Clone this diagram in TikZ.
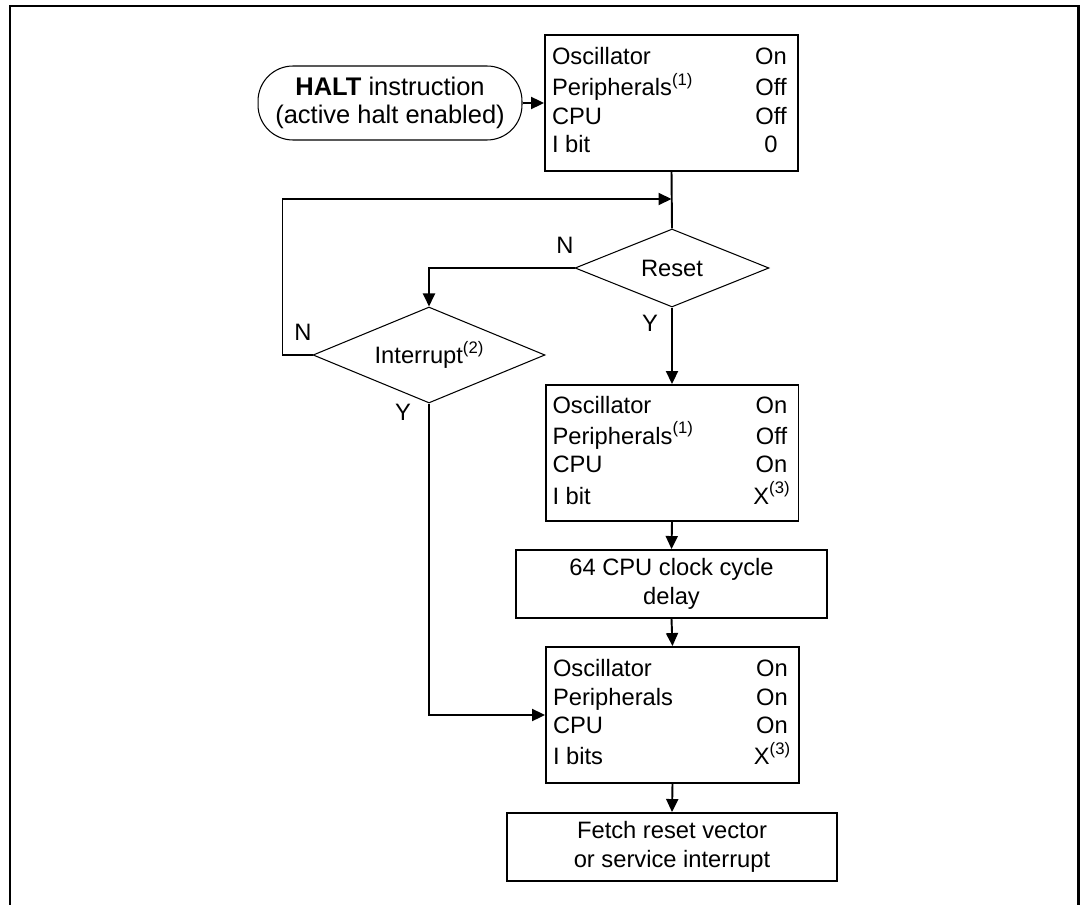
\documentclass[tikz,border=0pt]{standalone}
\usepackage{fontspec}
\setmainfont{Liberation Sans}
\usepackage{array}
\usetikzlibrary{arrows.meta,shapes.geometric}

\newcolumntype{C}{>{\centering\arraybackslash}p{0.8cm}}
\newcommand{\noteref}[1]{\raisebox{0.45em}{\fontsize{9.5}{9.5}\selectfont(#1)}}

\begin{document}
\begin{tikzpicture}[x=0.02cm, y=-0.02cm,
        font=\fontsize{13.5}{16.2}\selectfont,
        statebox/.style={draw, line width=1.1pt, rectangle, minimum width=5.06cm, minimum height=2.72cm, inner sep=0pt},
        stepbox/.style={draw, line width=1.1pt, rectangle, minimum height=1.36cm, inner sep=0pt, align=center},
        decision/.style={draw, line width=0.6pt, diamond, inner sep=0pt},
        flow/.style={line width=1.1pt, -{Triangle[length=0.26cm,width=0.24cm]}}]
        \useasboundingbox (0,0) rectangle (1084,905);

        % Frame
        \draw[line width=1.7pt] (10,905) -- (10,6) -- (1078,6) -- (1078,905);

        % Start
        \node[draw, line width=0.6pt, rounded corners=0.7cm, minimum width=5.28cm, minimum height=1.48cm, align=center, font=\fontsize{14.5}{16.4}\selectfont] (halt) at (390,103) {\textbf{HALT} instruction\\(active halt enabled)};

        % Halted state
        \node[statebox] (s1) at (671.5,103) {\begin{tabular}{@{}p{3.98cm}@{}C@{}}
            Oscillator & On\\
            Peripherals\noteref{1} & Off\\
            CPU & Off\\
            I bit & 0
        \end{tabular}};

        % Decisions
        \node[decision, shape aspect=2.5, minimum width=3.88cm, minimum height=1.56cm] (reset) at (672,268) {Reset};
        \node[decision, shape aspect=2.4, minimum width=4.64cm, minimum height=1.92cm] (intr) at (429,355) {Interrupt\noteref{2}};

        % Wake-up states
        \node[statebox] (s2) at (672,453) {\begin{tabular}{@{}p{3.98cm}@{}C@{}}
            Oscillator & On\\
            Peripherals\noteref{1} & Off\\
            CPU & On\\
            I bit & X\noteref{3}
        \end{tabular}};
        \node[stepbox, minimum width=6.22cm] (delay) at (671.5,584) {64 CPU clock cycle\\delay};
        \node[statebox] (s3) at (672.5,715) {\begin{tabular}{@{}p{3.98cm}@{}C@{}}
            Oscillator & On\\
            Peripherals & On\\
            CPU & On\\
            I bits & X\noteref{3}
        \end{tabular}};
        \node[stepbox, minimum width=6.6cm] (fetch) at (672,847) {Fetch reset vector\\or service interrupt};

        % Branch labels
        \node (resetn) at (565,245) {N};
        \node (resety) at (650,323) {Y};
        \node (intrn) at (303,332) {N};
        \node (intry) at (403,412) {Y};

        % Connections
        \coordinate (loop) at (s1.south |- 0,199);
        \draw[flow] (halt) -- (s1);
        \draw[line width=1.1pt] (s1.south) -- (reset.north);
        \draw[flow] (intr.west) -- ++(-30,0) |- (loop);
        \draw[flow] (reset.west) -| (intr.north);
        \draw[flow] (reset.south) -- (s2.north);
        \draw[flow] (s2.south) -- (delay.north);
        \draw[flow] (delay.south) -- (s3.north);
        \draw[flow] (intr.south) |- (s3.west);
        \draw[flow] (s3.south) -- (fetch.north);
    \end{tikzpicture}
\end{document}
